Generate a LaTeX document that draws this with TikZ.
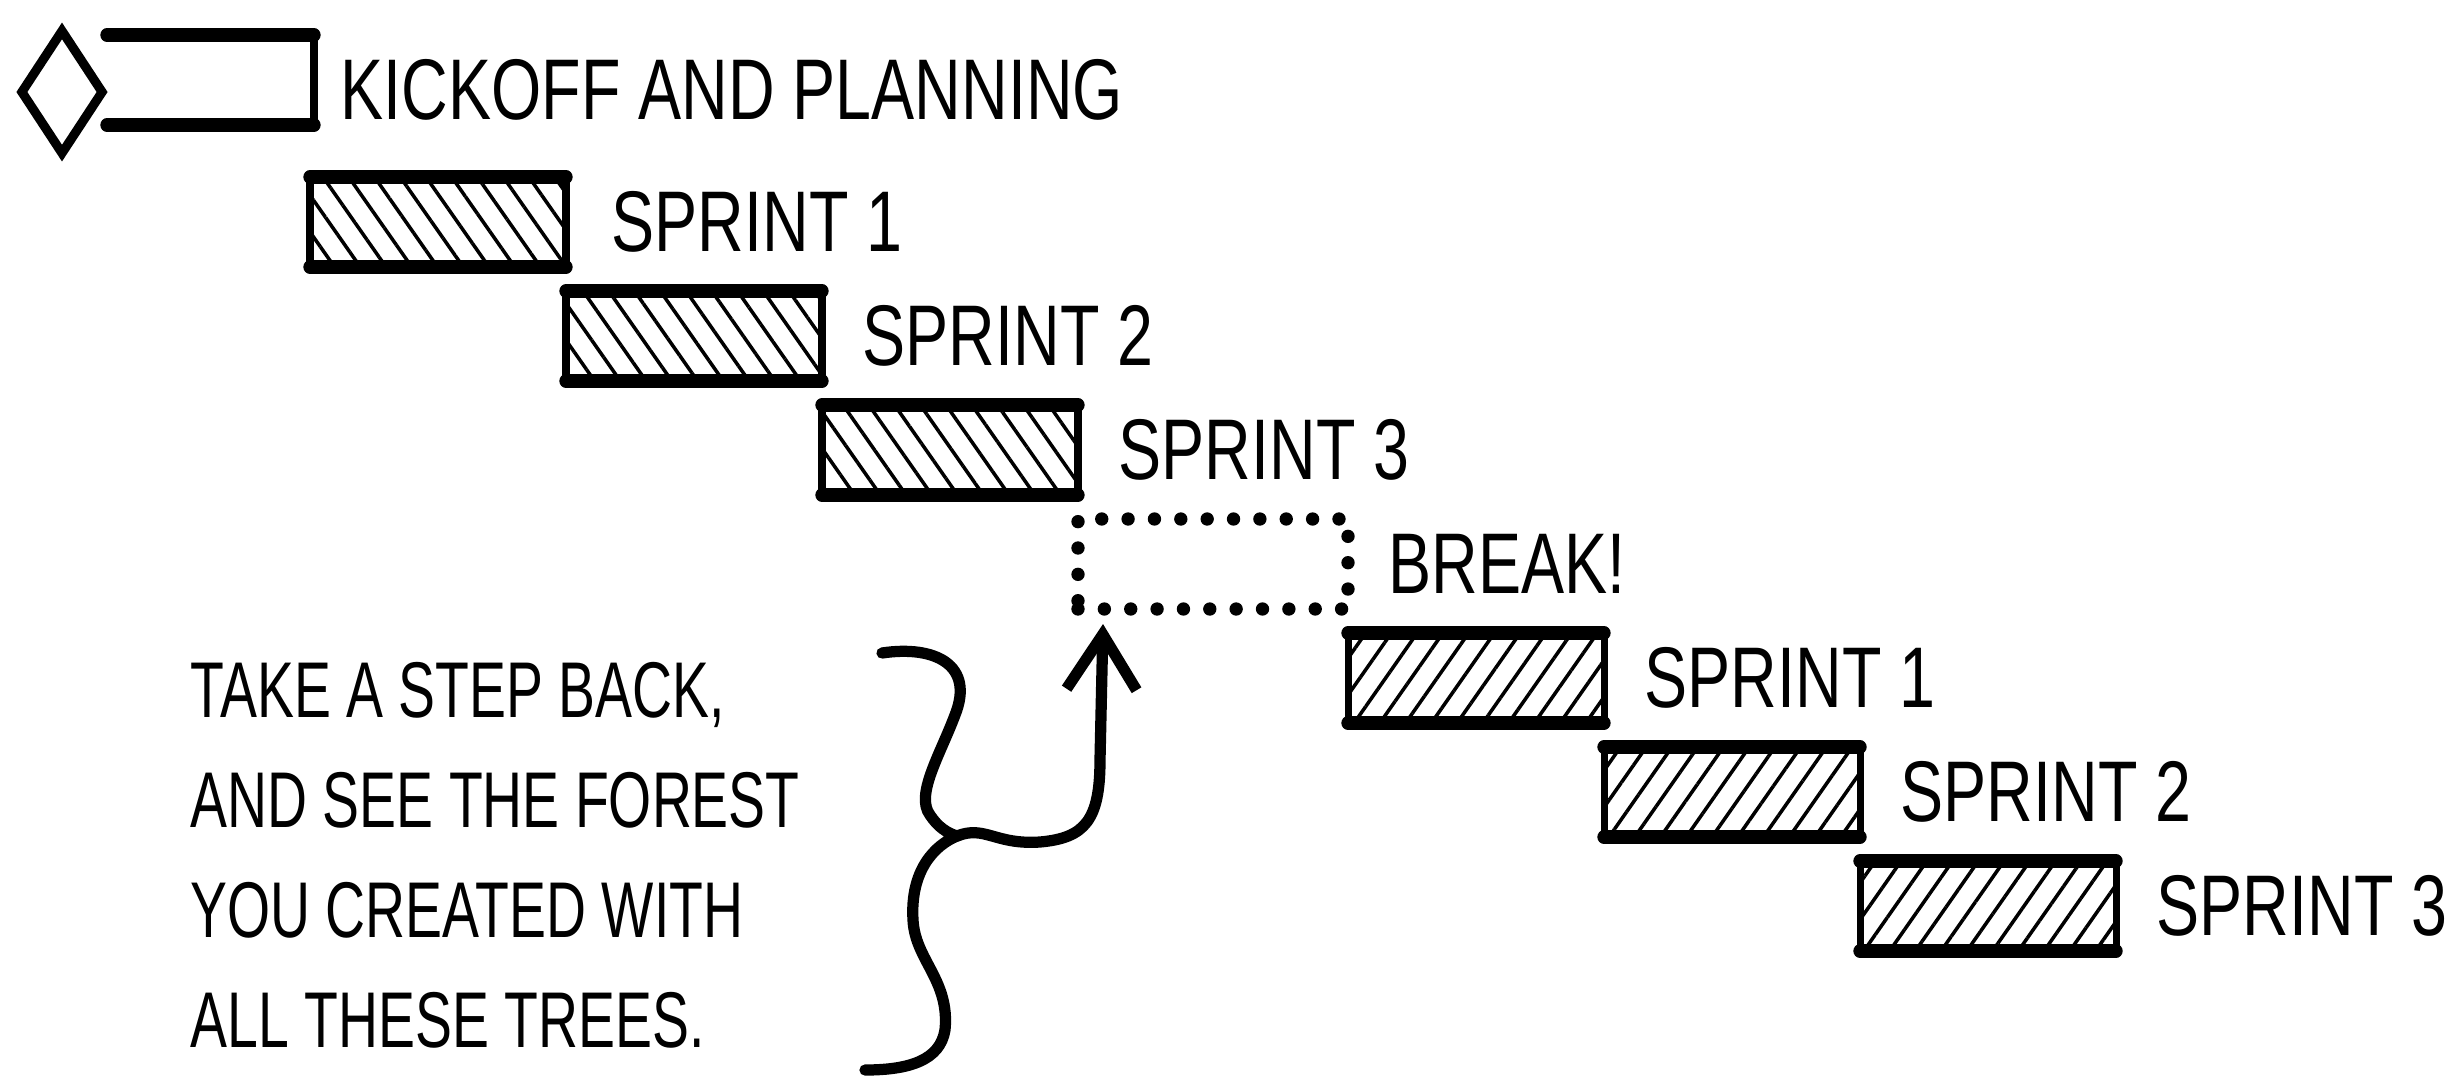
\documentclass[tikz,border=0pt]{standalone}
\usepackage{fontspec}
\newfontfamily\handfont[FakeStretch=0.75]{Liberation Sans}
\newfontfamily\notefont[FakeStretch=0.7]{Liberation Sans}
\usetikzlibrary{arrows.meta,positioning,patterns.meta,shapes.geometric}
\tikzset{
  milestone/.style={draw=black,diamond,line width=2.6pt,minimum width=8.4mm,minimum height=12.6mm,inner sep=0pt},
  slot/.style={minimum width=25.6mm,minimum height=9mm,inner sep=0pt,outer sep=0pt},
  sprintA/.style={slot,draw,line width=2pt,pattern={Lines[angle=-55,distance=6pt,line width=1pt]}},
  sprintB/.style={slot,draw,line width=2pt,pattern={Lines[angle=55,distance=6pt,line width=1pt]}},
  pause/.style={slot,draw,line width=3.8pt,line cap=round,dash pattern=on 0pt off 7.5pt,minimum width=27mm},
  heavy/.style={line width=3.8pt,line cap=round},
  curl/.style={line width=3.2pt,line cap=round},
  txt/.style={font=\handfont\fontsize{24.5}{30}\selectfont,inner sep=0pt},
  note/.style={font=\notefont\fontsize{22.5}{31.3}\selectfont,inner sep=0pt,align=left}
}
\begin{document}
\begin{tikzpicture}[node distance=2.4mm and 0mm]
  \useasboundingbox[fill=white] (0,0) rectangle (24.59,-10.76);
  \node[milestone] (kick) at (0.62,-0.92) {};
  \node[slot, anchor=west, minimum width=20.7mm] (kbar) at (1.07,-0.80) {};
  \draw[heavy] (kbar.north west) -- (kbar.north east);
  \draw[line width=2pt] (kbar.north east) -- (kbar.south east);
  \draw[heavy] (kbar.south west) -- (kbar.south east);
  \node[txt, right=2.6mm of kbar, yshift=-1mm] (ktxt) {KICKOFF AND PLANNING};
  \node[sprintA, below right=5.2mm and -0.4mm of kbar] (s1) {};
  \node[sprintA, below right=of s1] (s2) {};
  \node[sprintA, below right=of s2] (s3) {};
  \node[pause, below right=of s3] (brk) {};
  \node[sprintB, below right=of brk] (t1) {};
  \node[sprintB, below right=of t1] (t2) {};
  \node[sprintB, below right=of t2] (t3) {};
  \foreach \b in {s1,s2,s3,t1,t2,t3}
    \draw[heavy] (\b.north west) -- (\b.north east) (\b.south west) -- (\b.south east);
  \node[txt, right=4.5mm of s1] (s1txt) {SPRINT 1};
  \node[txt, right=4mm of s2] (s2txt) {SPRINT 2};
  \node[txt, right=4mm of s3] (s3txt) {SPRINT 3};
  \node[txt, right=4mm of brk] (brktxt) {BREAK!};
  \node[txt, right=4mm of t1] (t1txt) {SPRINT 1};
  \node[txt, right=4mm of t2] (t2txt) {SPRINT 2};
  \node[txt, right=4mm of t3] (t3txt) {SPRINT 3};
  \node[note, anchor=north west] (note) at (1.9,-6.62) {TAKE A STEP BACK,\\AND SEE THE FOREST\\YOU CREATED WITH\\ALL THESE TREES.};
  \coordinate (cusp) at (9.57,-8.36);
  \draw[curl] (8.82,-6.53) .. controls (9.35,-6.45) and (9.75,-6.65) .. (9.55,-7.15)
    .. controls (9.4,-7.55) and (9.15,-7.95) .. (9.3,-8.15)
    .. controls (9.38,-8.27) and (9.47,-8.33) .. (cusp)
    .. controls (9.35,-8.45) and (9.1,-8.7) .. (9.13,-9.2)
    .. controls (9.15,-9.6) and (9.5,-9.8) .. (9.45,-10.3)
    .. controls (9.4,-10.6) and (9.1,-10.7) .. (8.65,-10.7);
  \draw[curl, -{Straight Barb[length=5.5mm,width=7mm]}] (cusp)
    .. controls (9.85,-8.25) and (9.95,-8.45) .. (10.4,-8.42)
    .. controls (10.85,-8.38) and (11.0,-8.2) .. (11.0,-7.6)
    -- ([xshift=2.5mm,yshift=-1.5mm]brk.south west);
\end{tikzpicture}
\end{document}
